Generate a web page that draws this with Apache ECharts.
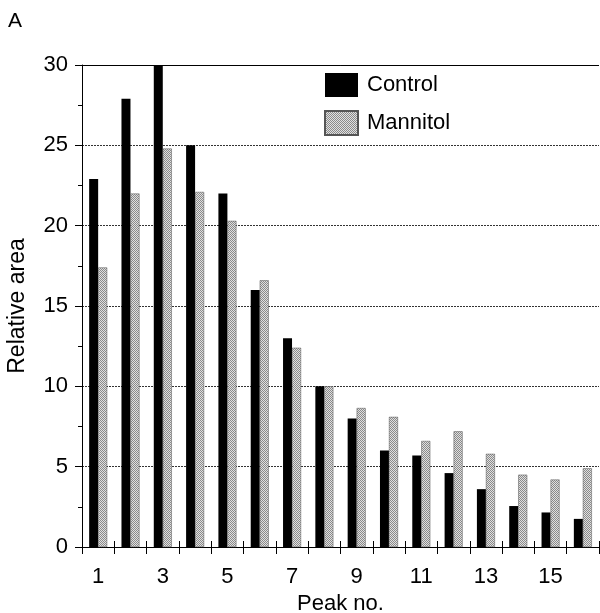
<!DOCTYPE html>
<html><head><meta charset="utf-8">
<script src="https://cdn.jsdelivr.net/npm/echarts@6/dist/echarts.min.js"></script>
<style>html,body{margin:0;padding:0;background:#fff}#c{width:600px;height:613px}</style>
</head><body><div id="c"></div>
<script>
const categories = ['1','2','3','4','5','6','7','8','9','10','11','12','13','14','15','16'];
const control  = [22.9, 27.9, 30.0, 25.0, 22.0, 16.0, 13.0, 10.0, 8.0, 6.0, 5.7, 4.6, 3.6, 2.55, 2.15, 1.75];
const mannitol = [17.4, 22.0, 24.8, 22.1, 20.3, 16.6, 12.4, 10.0, 8.65, 8.1, 6.6, 7.2, 5.8, 4.5, 4.2, 4.9];
const yTicks = [0, 5, 10, 15, 20, 25, 30];

// stipple pattern for Mannitol
const pc = document.createElement('canvas');
pc.width = 2; pc.height = 2;
const px = pc.getContext('2d');
px.fillStyle = '#e0e0e0'; px.fillRect(0,0,2,2);
px.fillStyle = '#8a8a8a';
px.fillRect(0,0,1,1); px.fillRect(1,1,1,1);
const stipple = {image: pc, repeat: 'repeat'};

const font = 'Liberation Sans';
const chart = echarts.init(document.getElementById('c'));
chart.setOption({
  animation: false,
  textStyle: {fontFamily: font, color: '#000'},
  title: {text: 'A', left: 3, top: 6, textStyle: {fontFamily: font, fontSize: 21, fontWeight: 'normal', color: '#000'}},
  legend: {
    orient: 'vertical', left: 319, top: 68, itemWidth: 33, itemHeight: 24, itemGap: 13,
    textStyle: {fontFamily: font, fontSize: 22, color: '#000', padding: [0,0,0,4]},
    data: [{name: 'Control', icon: 'rect'}, {name: 'Mannitol', icon: 'rect'}]
  },
  grid: {left: 82, right: 1, top: 65, bottom: 66, outerBoundsMode: 'none', containLabel: false},
  xAxis: [{
    type: 'category', data: categories,
    name: 'Peak no.', nameLocation: 'middle', nameGap: 42,
    nameTextStyle: {fontFamily: font, fontSize: 22, color: '#000'},
    axisLine: {lineStyle: {color: '#000', width: 1}},
    axisTick: {show: true, interval: 0, length: 7, lineStyle: {color: '#000'}},
    axisLabel: {interval: 1, fontFamily: font, fontSize: 22, color: '#000', margin: 19},
    splitLine: {show: false}
  }, {
    type: 'category', data: categories, position: 'bottom',
    axisLine: {show: false},
    axisTick: {show: true, inside: true, interval: 0, length: 6, lineStyle: {color: '#000'}},
    axisLabel: {show: false}, splitLine: {show: false}
  }],
  yAxis: {
    type: 'value', min: yTicks[0], max: yTicks[yTicks.length-1], interval: 5,
    name: 'Relative area', nameLocation: 'middle', nameGap: 53,
    nameTextStyle: {fontFamily: font, fontSize: 23, color: '#000'},
    axisLine: {show: true, lineStyle: {color: '#000', width: 1}},
    axisTick: {show: true, length: 7, lineStyle: {color: '#000'}},
    minorTick: {show: true, splitNumber: 2, length: 4, lineStyle: {color: '#000'}},
    axisLabel: {fontFamily: font, fontSize: 22, color: '#000', margin: 14},
    splitLine: {show: true, lineStyle: {color: '#333', type: [2,1], width: 1}}
  },
  series: [{
    name: 'Control', type: 'bar', data: control, barWidth: 9, barGap: '0%',
    itemStyle: {color: '#000'},
    markLine: {silent: true, symbol: 'none', label: {show: false},
      lineStyle: {color: '#000', type: 'solid', width: 1}, data: [{yAxis: 30}]}
  }, {
    name: 'Mannitol', type: 'bar', data: mannitol, barWidth: 9, barGap: '0%',
    itemStyle: {color: stipple, borderColor: '#555', borderWidth: 0.5}
  }]
});
</script></body></html>
